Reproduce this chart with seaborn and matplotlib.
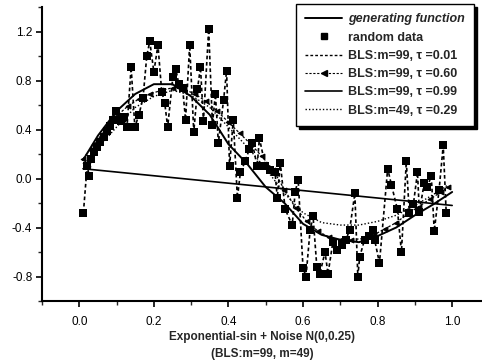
import matplotlib
matplotlib.use("Agg")
import matplotlib.pyplot as plt
from matplotlib.lines import Line2D
from matplotlib.ticker import MultipleLocator
import numpy as np
import pandas as pd
import seaborn as sns

# random data (noisy samples)
data_x = [0.011, 0.021, 0.027, 0.032, 0.040, 0.048, 0.056, 0.067, 0.075, 0.083,
          0.091, 0.099, 0.112, 0.120, 0.128, 0.139, 0.149, 0.160, 0.171, 0.181,
          0.189, 0.200, 0.211, 0.221, 0.229, 0.237, 0.251, 0.259, 0.267, 0.277,
          0.285, 0.296, 0.307, 0.317, 0.325, 0.333, 0.347, 0.357, 0.365, 0.373,
          0.387, 0.395, 0.403, 0.413, 0.424, 0.432, 0.445, 0.456, 0.464, 0.477,
          0.483, 0.499, 0.512, 0.525, 0.531, 0.539, 0.552, 0.571, 0.579, 0.587,
          0.600, 0.608, 0.619, 0.627, 0.637, 0.645, 0.659, 0.667, 0.680, 0.691,
          0.704, 0.715, 0.725, 0.739, 0.747, 0.752, 0.765, 0.776, 0.787, 0.792,
          0.805, 0.827, 0.837, 0.853, 0.864, 0.877, 0.885, 0.896, 0.907, 0.912,
          0.925, 0.933, 0.944, 0.952, 0.965, 0.976, 0.984]
data_y = [-0.28, 0.10, 0.02, 0.16, 0.22, 0.26, 0.30, 0.34, 0.39, 0.43,
          0.48, 0.55, 0.47, 0.50, 0.42, 0.91, 0.42, 0.52, 0.66, 1.00,
          1.12, 0.87, 1.09, 0.71, 0.62, 0.42, 0.83, 0.89, 0.77, 0.74,
          0.48, 1.09, 0.38, 0.73, 0.91, 0.47, 1.22, 0.44, 0.69, 0.29,
          0.64, 0.88, 0.10, 0.48, -0.16, 0.05, 0.14, 0.24, 0.29, 0.10,
          0.33, 0.10, 0.07, 0.05, -0.16, 0.13, -0.25, -0.38, -0.11, -0.01,
          -0.73, -0.80, -0.42, -0.31, -0.72, -0.78, -0.60, -0.78, -0.52, -0.58,
          -0.54, -0.50, -0.42, -0.12, -0.80, -0.64, -0.50, -0.47, -0.42, -0.50,
          -0.69, 0.08, -0.05, -0.25, -0.60, 0.14, -0.28, -0.21, 0.05, -0.27,
          -0.04, -0.07, 0.02, -0.43, -0.09, 0.27, -0.28]

# generating function
gen_x = [0.01, 0.05, 0.10, 0.15, 0.20, 0.25, 0.30, 0.35, 0.40, 0.45, 0.50,
         0.55, 0.60, 0.65, 0.70, 0.75, 0.80, 0.85, 0.90, 0.95, 1.00]
gen_y = [0.15, 0.35, 0.55, 0.69, 0.77, 0.77, 0.67, 0.52, 0.28, 0.12, -0.07,
         -0.20, -0.37, -0.46, -0.50, -0.52, -0.47, -0.40, -0.30, -0.21, -0.11]

# BLS m=99, tau=0.60
t60_x = [0.01, 0.04, 0.07, 0.10, 0.13, 0.16, 0.19, 0.22, 0.25, 0.28, 0.31, 0.34,
         0.37, 0.40, 0.43, 0.46, 0.49, 0.52, 0.55, 0.58, 0.61, 0.64, 0.67, 0.70,
         0.73, 0.76, 0.79, 0.82, 0.85, 0.88, 0.91, 0.94, 0.97, 0.99]
t60_y = [0.16, 0.28, 0.40, 0.51, 0.59, 0.65, 0.69, 0.72, 0.74, 0.73, 0.69, 0.63,
         0.55, 0.46, 0.37, 0.28, 0.18, 0.07, -0.09, -0.24, -0.35, -0.43, -0.48, -0.50,
         -0.50, -0.49, -0.46, -0.41, -0.36, -0.29, -0.23, -0.17, -0.11, -0.07]

# BLS m=99, tau=0.99
t99_x = [0.01, 1.00]
t99_y = [0.08, -0.22]

# BLS m=49, tau=0.29
m49_x = [0.01, 0.05, 0.10, 0.15, 0.20, 0.25, 0.30, 0.35, 0.40, 0.45, 0.50,
         0.55, 0.60, 0.65, 0.70, 0.75, 0.80, 0.85, 0.90, 0.95, 0.99]
m49_y = [0.12, 0.25, 0.42, 0.58, 0.67, 0.72, 0.68, 0.58, 0.42, 0.26, 0.08,
         -0.12, -0.28, -0.36, -0.38, -0.38, -0.35, -0.30, -0.22, -0.13, -0.05]

labels = ["generating function", "random data",
          "BLS:m=99, \u03c4 =0.01", "BLS:m=99, \u03c4 =0.60",
          "BLS:m=99, \u03c4 =0.99", "BLS:m=49, \u03c4 =0.29"]

sns.set_style("ticks")
plt.rcParams["font.family"] = ["Liberation Sans", "DejaVu Sans"]

fig = plt.figure(figsize=(4.82, 3.62), dpi=100)
ax = fig.add_axes([42 / 482, 1 - 301 / 362, 440 / 482, 294 / 362])

df = pd.DataFrame({"x": data_x, "y": data_y})

sns.lineplot(x=gen_x, y=gen_y, ax=ax, color="black", lw=1.4, sort=False)
sns.lineplot(x=m49_x, y=m49_y, ax=ax, color="black", lw=1.0, ls=(0, (1, 1.5)), sort=False)
sns.lineplot(x=t60_x, y=t60_y, ax=ax, color="black", lw=0.9, ls=(0, (2, 1.5)),
             marker="<", markersize=3.5, markeredgecolor="black", sort=False)
sns.lineplot(x=t99_x, y=t99_y, ax=ax, color="black", lw=1.2, sort=False)
sns.lineplot(data=df, x="x", y="y", ax=ax, color="black", lw=1.2,
             ls=(0, (2.2, 1.6)), sort=False)
sns.scatterplot(data=df, x="x", y="y", ax=ax, color="black", marker="s",
                s=34, edgecolor="black", linewidth=0, zorder=5)

ax.set_xlim(-0.1, 1.08)
ax.set_ylim(-1.0, 1.4)
ax.xaxis.set_minor_locator(MultipleLocator(0.1))
ax.yaxis.set_minor_locator(MultipleLocator(0.2))
ax.set_xticks([0.0, 0.2, 0.4, 0.6, 0.8, 1.0])
ax.set_yticks([-0.8, -0.4, 0.0, 0.4, 0.8, 1.2])
ax.set_xticklabels(["0.0", "0.2", "0.4", "0.6", "0.8", "1.0"])
ax.set_yticklabels(["-0.8", "-0.4", "0.0", "0.4", "0.8", "1.2"])
ax.tick_params(axis="both", which="major", length=4, width=1.2, labelsize=8.5,
               direction="out", pad=7, colors="black")
ax.tick_params(axis="both", which="minor", length=3, width=1.0, direction="out")
ax.tick_params(axis="y", which="major", pad=3)
sns.despine(ax=ax)
for s in ["left", "bottom"]:
    ax.spines[s].set_linewidth(1.5)
    ax.spines[s].set_color("black")

ax.set_xlabel("Exponential-sin + Noise N(0,0.25)\n(BLS:m=99, m=49)",
              fontsize=8.5, fontweight="bold", labelpad=2, linespacing=1.5)
ax.set_ylabel("")

handles = [
    Line2D([], [], color="black", lw=1.4),
    Line2D([], [], color="black", ls="none", marker="s", markersize=5),
    Line2D([], [], color="black", lw=1.0, ls=(0, (2, 1.5))),
    Line2D([], [], color="black", lw=0.8, ls=(0, (2, 1.5)), marker="<", markersize=4),
    Line2D([], [], color="black", lw=1.2),
    Line2D([], [], color="black", lw=1.0, ls=(0, (1, 1.5))),
]
leg = ax.legend(handles, labels, loc="upper right", bbox_to_anchor=(474 / 482, 1 - 4 / 362),
                bbox_transform=fig.transFigure, borderaxespad=0, fontsize=9,
                frameon=True, fancybox=False, edgecolor="black", framealpha=1,
                handlelength=2.9, handletextpad=0.5, labelspacing=0.5,
                borderpad=0.75, markerfirst=True,
                shadow={"ox": 2.5, "oy": -2.5, "color": "black", "alpha": 1})
leg.get_frame().set_linewidth(1.0)
for i, t in enumerate(leg.get_texts()):
    t.set_fontweight("bold")
    if i == 0:
        t.set_fontstyle("italic")

fig.savefig("out.png", dpi=100)
